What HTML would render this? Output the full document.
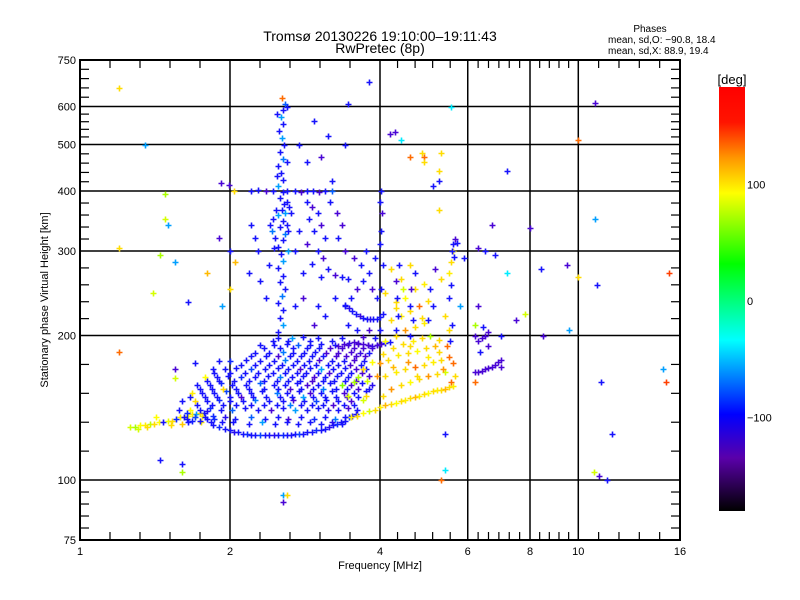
<!DOCTYPE html>
<html><head><meta charset="utf-8">
<style>
html,body{margin:0;padding:0;background:#fff;}
#wrap{position:relative;width:800px;height:600px;overflow:hidden;font-family:"Liberation Sans",sans-serif;}
svg text{font-family:"Liberation Sans",sans-serif;fill:#000;}
</style></head>
<body>
<div id="wrap">
<svg id="chart" width="800" height="600" viewBox="0 0 800 600">
<defs>
<linearGradient id="cbar" x1="0" y1="0" x2="0" y2="1">
<stop offset="0" stop-color="rgb(255,0,0)"/>
<stop offset="0.083" stop-color="rgb(255,20,0)"/>
<stop offset="0.167" stop-color="rgb(255,150,0)"/>
<stop offset="0.25" stop-color="rgb(255,255,0)"/>
<stop offset="0.417" stop-color="rgb(0,255,0)"/>
<stop offset="0.597" stop-color="rgb(0,255,255)"/>
<stop offset="0.772" stop-color="rgb(0,0,255)"/>
<stop offset="0.875" stop-color="rgb(90,0,170)"/>
<stop offset="1" stop-color="rgb(0,0,0)"/>
</linearGradient>
<clipPath id="plotclip"><rect x="80" y="60" width="600" height="480"/></clipPath>
</defs>
<text x="380" y="41" font-size="14" text-anchor="middle">Tromsø 20130226 19:10:00–19:11:43</text>
<text x="380" y="53" font-size="14" text-anchor="middle">RwPretec (8p)</text>
<text x="650" y="32" font-size="10" text-anchor="middle">Phases</text>
<text x="608" y="43" font-size="10">mean, sd,O: −90.8, 18.4</text>
<text x="608" y="54" font-size="10">mean, sd,X:  88.9, 19.4</text>
<g id="grid"></g>
<g id="points" clip-path="url(#plotclip)"></g>
<g id="axes"></g>
<text x="380" y="569" font-size="11" text-anchor="middle">Frequency [MHz]</text>
<text transform="translate(48,300) rotate(-90)" font-size="11" text-anchor="middle">Stationary phase Virtual Height [km]</text>
<rect x="719" y="87" width="26" height="424" fill="url(#cbar)"/>
<text x="732" y="84" font-size="13" text-anchor="middle">[deg]</text>
<g id="cbticks"></g>
</svg>
</div>
<script>
const xMajorTicks = [1, 2, 4, 6, 8, 10, 16];
const xMinorCounts = [5, 5, 5, 6, 5, 5];
const yMajorTicks = [75, 100, 200, 300, 400, 500, 600, 750];
const yMinorCounts = [5, 5, 5, 5, 5, 5, 5];
const xGrid = [2, 4, 6, 8, 10];
const yGrid = [100, 200, 300, 400, 500, 600];
const cbarTicks = [100, 0, -100];

const traceLowE = [[1.26,129,80],[1.29,129,70],[1.32,130,90],[1.35,130,95],[1.38,131,75],[1.41,131,100],[1.44,132,90],[1.47,132,-110],[1.5,133,85],[1.53,133,100],[1.56,134,-100],[1.59,135,95],[1.62,135,100],[1.65,136,90],[1.68,137,95],[1.71,137,-60],[1.74,138,100],[1.77,138,-110],[1.8,139,-120],[1.64,134,-110],[1.7,135,100],[1.76,136,95],[1.52,130,100],[1.6,131,105],[1.68,133,-105],[1.31,128,80],[1.36,129,100],[1.75,132,95],[1.8,134,-110],[1.85,136,-100]];
const traceF1Bottom = [[1.85,130,-110],[1.9,129,-100],[1.95,128,-110],[2.0,127,-110],[2.04,126,-120],[2.08,126,-110],[2.12,125,-110],[2.16,125,-100],[2.2,124,-110],[2.25,124,-110],[2.3,124,-90],[2.35,124,-110],[2.4,124,-110],[2.45,124,-120],[2.5,124,-110],[2.55,124,-100],[2.6,124,-110],[2.65,124,-110],[2.7,125,-110],[2.75,125,-90],[2.8,125,-110],[2.86,126,-110],[2.92,126,-110],[2.98,127,-100],[3.04,127,-110],[3.1,128,-110],[3.16,129,-120],[3.22,130,-110],[3.28,131,-100],[3.34,132,-110],[3.4,133,-110],[3.46,135,-90],[3.52,136,-110],[3.58,137,-110]];
const cloudMain = [
[1.62,135,-110],[1.7,135,-90],[1.78,135,-110],[1.86,134,-100],[1.95,135,-120],[2.05,134,-110],[2.2,135,-80],[2.35,134,-110],[2.5,135,-110],[2.62,134,-140],[2.78,135,-110],[2.95,134,-100],[3.1,135,-110],[3.25,134,-70],[3.4,135,-110],
[1.58,140,-110],[1.66,140,90],[1.74,140,-110],[1.82,141,-100],[1.92,140,-110],[2.02,140,-80],[2.14,141,-110],[2.28,140,-110],[2.42,140,-140],[2.56,141,-110],[2.7,140,-60],[2.85,140,-110],[3.0,141,-110],[3.15,140,-120],[3.3,140,-110],[3.45,141,-140],[3.6,140,-110],
[1.6,146,-110],[1.7,146,100],[1.8,146,-110],[1.9,147,-100],[2.0,146,-110],[2.12,146,-110],[2.25,147,-70],[2.4,146,-110],[2.55,146,-110],[2.68,147,-140],[2.82,146,-110],[2.98,146,-90],[3.12,147,-110],[3.3,146,-110],[3.5,146,-140],[3.7,147,80],
[1.68,152,95],[1.76,152,-110],[1.86,152,-110],[1.96,153,-90],[2.08,152,-110],[2.2,152,-110],[2.32,153,-110],[2.48,152,-70],[2.6,152,-110],[2.75,153,-110],[2.9,152,-140],[3.05,152,-110],[3.2,153,-110],[3.38,152,-140],[3.55,152,-110],[3.75,153,-110],
[1.72,158,-110],[1.82,158,-110],[1.92,159,-100],[2.02,158,-110],[2.15,158,-110],[2.3,159,-80],[2.45,158,-110],[2.58,158,-110],[2.72,159,-110],[2.86,158,-140],[3.0,158,-110],[3.18,159,-110],[3.35,158,60],[3.5,158,-140],[3.68,159,-110],[3.85,158,-120],
[1.78,164,90],[1.88,164,-110],[1.98,165,-110],[2.1,164,-100],[2.24,164,-110],[2.38,165,-110],[2.52,164,-70],[2.66,164,-110],[2.8,165,-110],[2.95,164,-140],[3.1,164,-110],[3.28,165,-110],[3.45,164,-110],[3.62,164,70],[3.8,165,-140],
[1.85,170,-110],[1.95,170,-110],[2.06,171,-110],[2.2,170,-90],[2.35,170,-110],[2.5,171,-110],[2.62,170,-110],[2.76,170,-140],[2.9,171,-110],[3.05,170,-60],[3.22,170,-110],[3.4,171,-110],[3.58,170,-140],[3.75,170,-110],
[1.9,177,-110],[2.0,177,-100],[2.15,178,-110],[2.3,177,-110],[2.45,177,-110],[2.58,178,-70],[2.72,177,-110],[2.88,177,-110],[3.02,178,-140],[3.2,177,-110],[3.38,177,-110],[3.55,178,-140],[3.72,177,-110],
[2.25,184,-110],[2.4,184,-110],[2.55,185,-70],[2.68,184,-110],[2.82,184,-110],[2.96,185,-110],[3.12,184,-140],[3.3,184,-140],[3.5,185,-140],[3.65,184,-130],[3.8,184,-110],
[2.3,191,-110],[2.45,191,-110],[2.6,192,-110],[2.74,191,-80],[2.9,191,-110],[3.05,192,-110],[3.25,191,-110],[3.45,191,-140],[3.62,192,-140],[3.78,191,-140],[3.95,191,-110],
[2.5,198,-110],[2.66,198,-60],[2.8,199,-110],[3.0,198,-110],[3.35,198,-110],[3.7,199,-140],[3.9,198,-110],
[1.65,132,-110],[1.74,133,-110],[1.83,132,-110],[1.93,132,-110],[2.03,132,-110],[2.18,131,-110],[2.32,132,-60],[2.46,131,-110],[2.6,132,-110],[2.74,131,-110],[2.9,132,-110],[3.05,131,-110],[3.2,132,-120],[3.35,131,-110],
[1.64,138,-100],[1.72,143,-110],[1.84,143,-110],[1.94,143,-110],[2.06,143,-110],[2.2,143,-110],[2.34,143,-110],[2.48,143,-110],[2.64,143,-70],[2.78,143,-110],[2.92,143,-110],[3.08,143,-110],[3.22,143,-140],[3.38,143,-110],[3.55,143,-110],
[1.66,149,-110],[1.78,149,-110],[1.88,149,-110],[2.0,149,-110],[2.1,149,-140],[2.22,149,-110],[2.36,149,-110],[2.52,149,-110],[2.66,149,-110],[2.8,149,-60],[2.94,149,-110],[3.1,149,-110],[3.26,149,-110],[3.44,149,-140],[3.62,149,-110],
[1.74,155,-110],[1.84,155,-110],[1.94,155,100],[2.06,155,-110],[2.18,155,-110],[2.34,155,-110],[2.5,155,-110],[2.64,155,-140],[2.78,155,-110],[2.94,155,-110],[3.08,155,-70],[3.26,155,-110],[3.44,155,-110],[3.62,155,-140],[3.8,155,-110],
[1.8,161,-110],[1.9,161,-110],[2.04,161,-110],[2.18,161,-110],[2.34,161,-110],[2.48,161,-110],[2.62,161,-110],[2.76,161,-110],[2.92,161,-140],[3.08,161,-110],[3.24,161,-110],[3.4,161,-110],[3.58,161,-140],[3.76,161,80],
[1.86,167,-110],[2.0,167,-110],[2.14,167,-110],[2.28,167,-110],[2.44,167,-110],[2.58,167,-110],[2.72,167,-110],[2.84,167,-110],[3.0,167,-110],[3.16,167,-140],[3.34,167,-110],[3.5,167,-110],[3.68,167,-140],
[2.1,174,-110],[2.24,174,-110],[2.4,174,-110],[2.54,174,-110],[2.68,174,-110],[2.82,174,-110],[2.98,174,-110],[3.14,174,-110],[3.3,174,-110],[3.48,174,-140],[3.66,174,-110],
[2.2,181,-110],[2.36,181,-110],[2.5,181,-140],[2.64,181,-110],[2.78,181,-110],[2.92,181,-110],[3.08,181,-110],[3.26,181,-140],[3.42,181,-140],[3.58,181,-140],[3.74,181,-140],
[2.34,188,-110],[2.52,188,-110],[2.68,188,-110],[2.86,188,-110],[3.02,188,-110],[3.18,188,-140],[3.36,188,-140],[3.54,188,-140],[3.7,188,-140],[3.86,188,-140],[2.44,195,-110],[2.62,195,-110],[2.9,195,-110],[3.2,195,-110]];
const columnF2 = [[2.5,203,-110],[2.55,210,-60],[2.52,218,-110],[2.56,226,-110],[2.5,234,-110],[2.54,242,-70],[2.58,250,-110],[2.52,258,-110],[2.55,266,-110],[2.5,276,-110],[2.56,286,-60],[2.53,296,-110],[2.5,306,-110],[2.55,316,-110],[2.58,326,-70],[2.52,336,-110],[2.56,346,-110],[2.5,356,-60],[2.54,366,-110],[2.57,376,-110],[2.52,386,-110],[2.55,398,-110],[2.5,410,-60],[2.56,422,-110],[2.53,436,-110],[2.5,450,-110],[2.55,466,-70],[2.52,482,-110],[2.57,498,-110],[2.54,516,-60],[2.51,534,-110],[2.56,552,-110],[2.53,570,-60],[2.55,590,-110],[2.58,608,-80],[2.54,625,130],[2.6,600,-110],[2.48,580,-110],[2.6,460,-110],[2.48,430,-110],[2.6,340,-110],[2.46,320,-110],[2.62,300,-60],[2.44,350,-110],[2.63,370,-110],[2.43,330,-70],[2.41,340,-110],[2.62,330,-110],[2.45,305,-110],[2.58,360,-60],[2.47,365,-110],[2.6,380,-110]];
const cloudF2 = [[2.2,400,-110],[2.28,402,-110],[2.36,400,-140],[2.44,401,-110],[2.6,400,-110],[2.7,401,-110],[2.78,399,-140],[2.86,401,-110],[2.94,400,-110],[3.02,398,-140],[3.1,400,-110],[3.2,401,-80],[2.85,380,-110],[2.92,370,-140],[3.0,360,-110],[2.88,350,-110],[3.05,340,-140],[2.95,330,-110],[3.1,320,-110],[2.86,310,-140],[3.0,300,-110],[3.08,290,-140],[2.92,282,-110],[3.15,275,-110],[3.25,268,-140],[3.35,265,-110],[3.45,262,-110],[3.05,265,-110],[2.8,270,-110],[2.7,300,-110],[2.75,330,-110],[2.65,360,-110],[3.18,380,-110],[3.28,360,-140],[3.35,340,-140],[3.3,320,-110],[3.4,300,-140],[3.2,420,-110],[2.2,340,-110],[2.24,320,-110],[2.28,300,-110],[2.18,270,-110],[2.3,260,-110],[2.4,280,-110],[2.36,240,-110],[2.7,230,-110],[2.8,240,-140],[3.0,230,-110],[3.1,220,-110],[2.95,210,-140],[3.25,240,-110],[3.4,230,-110],[2.85,460,-110],[3.05,470,-140],[2.75,500,-110],[3.15,520,-110],[2.95,560,-110],[3.4,500,-110]];
const uTrace = [[3.4,232,-110],[3.46,228,-120],[3.52,225,-110],[3.58,222,-110],[3.64,220,-130],[3.7,218,-110],[3.76,217,-110],[3.82,216,-120],[3.88,216,-110],[3.94,217,-110],[4.0,219,-110],[4.06,222,-110],[3.5,240,-110],[3.6,250,-140],[3.7,260,-110],[3.8,270,-110],[3.66,280,-110],[3.55,290,-140],[3.9,290,-110],[3.75,300,-110],[4.0,310,-110],[3.85,250,-140],[3.95,240,-110],[3.6,205,-110],[3.8,205,-140],[4.0,205,-110],[4.02,250,-110],[4.05,280,-110],[4.01,330,-110],[4.03,360,-140],[4.0,380,-110],[4.02,400,-110],[3.45,210,-110]];
const bandE = [[3.3,190,-140],[3.38,192,-140],[3.46,193,-130],[3.54,194,-140],[3.62,193,-140],[3.7,192,-140],[3.78,191,-140],[3.86,190,-130],[3.94,191,-140],[4.02,192,-140],[4.1,193,-110],[4.18,194,-110]];
const yellowCloud = [[3.9,140,100],[4.0,142,95],[4.1,143,110],[4.2,144,100],[4.3,145,90],[4.4,146,100],[4.5,147,95],[4.6,148,100],[4.7,149,110],[4.8,150,95],[4.9,151,100],[5.0,152,90],[5.1,153,100],[5.2,154,95],[5.3,154,100],[5.4,155,110],[5.5,156,100],[5.6,157,95],[3.7,138,90],[3.8,139,80],[3.6,136,100],[3.5,135,95],
[4.05,150,100],[4.2,155,120],[4.4,158,100],[4.6,160,90],[4.8,162,100],[5.0,165,120],[5.2,166,100],[5.4,168,80],[4.1,165,100],[4.3,168,95],[4.5,170,100],[4.7,172,130],[4.9,174,100],[5.1,176,95],[5.3,178,100],[5.5,180,130],
[4.0,175,120],[4.15,178,100],[4.35,182,95],[4.55,184,100],[4.75,186,90],[4.95,188,100],[5.15,190,110],[4.25,188,100],[4.45,192,100],[4.65,195,95],[4.85,198,100],[5.05,200,70],[5.25,196,100],[4.1,195,90],[4.3,200,100],[4.5,205,120],[4.7,208,100],[4.9,212,95],
[4.2,215,100],[4.4,220,95],[4.6,225,100],[4.8,230,130],[5.0,236,100],[4.3,235,100],[4.5,240,90],[4.1,245,100],[4.7,250,100],[4.9,256,95],[4.4,262,100],[4.2,275,100],[4.6,280,100],[5.3,262,100],[5.5,270,95],[5.55,285,100],[5.6,300,95],[5.4,220,100],[5.5,205,100],[5.45,190,130],[5.6,175,130],[5.55,160,130],[5.65,165,100],
[3.45,150,80],[3.55,160,70],[3.7,170,100],[3.85,176,90],[3.95,165,120],[3.75,150,100],[4.05,183,100],[4.25,172,110],[4.55,176,120],[4.75,165,100],[5.0,180,95],[5.25,185,100],[5.35,170,120],[4.6,190,100],[4.85,218,100],[4.3,228,100],[4.45,250,80]];
const blueColumns = [[4.3,205,-110],[4.35,220,-110],[4.32,240,-110],[4.3,260,-140],[4.36,280,-110],[4.6,200,-110],[4.65,215,-110],[4.6,230,-110],[4.62,250,-140],[4.7,270,-110],[5.0,215,-110],[5.1,230,-110],[5.05,250,-110],[5.15,275,-140],[5.5,240,-110],[5.55,255,-110],[5.6,310,-110],[5.65,318,-140],[5.58,300,-110],[5.7,312,-110],[5.62,292,-110],[5.52,195,-110],[5.58,210,-110]];
const clusterF6 = [[6.2,168,-140],[6.3,168,-140],[6.4,169,-140],[6.5,170,-140],[6.6,171,-140],[6.7,172,-140],[6.8,174,-140],[6.9,176,-140],[7.0,178,-140],[6.3,195,-140],[6.4,198,-140],[6.5,200,-140],[6.6,203,-140],[6.45,208,-110],[6.35,185,-110],[6.2,200,-140],[6.6,190,-140],[7.0,172,-140],[6.2,160,130],[6.3,230,-140],[6.8,295,-110],[6.5,300,-110],[6.3,305,-140]];
const scattered = [[1.2,655,100],[1.35,500,-60],[1.48,395,70],[1.48,350,80],[1.5,340,-60],[1.9,320,-140],[1.55,285,-60],[1.8,270,110],[1.4,245,80],[1.2,305,100],[1.45,295,70],[1.2,185,130],[1.42,135,90],[1.55,170,-140],[1.55,163,80],[1.7,175,-110],[1.92,415,-140],[1.99,412,-140],[2.04,400,100],[2.0,300,-110],[2.05,285,110],[2.0,250,100],[1.93,230,-60],[1.65,235,-110],[1.45,110,-110],[1.6,108,-110],[1.6,104,70],[2.55,93,-60],[2.6,93,100],[2.55,90,-140],[3.45,607,-110],[3.8,675,-110],[4.4,510,-40],[4.28,530,-140],[4.6,470,130],[4.9,470,130],[4.85,480,100],[4.9,460,100],[5.1,410,-110],[5.25,365,100],[5.25,440,100],[5.3,480,100],[4.18,525,-140],[5.55,600,-40],[5.25,420,-110],[6.7,340,-140],[7.2,440,-110],[8.0,335,-140],[9.5,280,-140],[10.0,510,130],[10.0,265,100],[10.8,610,-140],[10.8,350,-60],[10.9,255,-110],[11.1,160,-110],[11.7,125,-110],[11.4,100,-110],[15.2,270,140],[14.8,170,-60],[15.0,160,140],[10.75,104,80],[11.0,102,-140],[9.6,205,-60],[5.4,105,-40],[5.3,100,130],[7.5,215,-140],[7.8,222,80],[7.2,270,-40],[8.5,200,-140],[8.4,275,-110],[5.9,290,-110],[5.4,125,-110],[6.2,210,70],[5.8,230,-60],[7.0,200,-110]];

const allSeries = [traceLowE, traceF1Bottom, cloudMain, columnF2, cloudF2, uTrace, bandE, yellowCloud, blueColumns, clusterF6, scattered];

const PX0 = 80, PX1 = 680, PY0 = 60, PY1 = 540;
function xScale(f){ return PX0 + (PX1-PX0) * Math.log(f/1) / Math.log(16); }
function yScale(h){ return PY1 - (PY1-PY0) * Math.log10(h/75) / Math.log10(10); }
function cbarLabelY(p){ return 301 - p * 1.165; }
const stops = [[180,[255,0,0]],[150,[255,20,0]],[120,[255,150,0]],[90,[255,255,0]],[30,[0,255,0]],[-35,[0,255,255]],[-70,[0,120,255]],[-108,[20,20,255]],[-150,[90,0,200]],[-180,[0,0,0]]];
function phaseColor(p){
  p = Math.max(-180, Math.min(180, p));
  for (let i=0;i<stops.length-1;i++){
    const a=stops[i], b=stops[i+1];
    if (p<=a[0] && p>=b[0]){
      const t=(a[0]-p)/(a[0]-b[0]);
      const c=a[1].map((v,k)=>Math.round(v+(b[1][k]-v)*t));
      return 'rgb('+c.join(',')+')';
    }
  }
  return 'rgb(0,0,0)';
}
const NS='http://www.w3.org/2000/svg';
function mk(tag, attrs){ const e=document.createElementNS(NS,tag); for(const k in attrs) e.setAttribute(k,attrs[k]); return e; }

const grid=document.getElementById('grid');
xGrid.forEach(v=>{
  const l=mk('line',{x1:xScale(v),x2:xScale(v),y1:PY0,y2:PY1,stroke:'#000','stroke-width':1.5});
  
  
  grid.appendChild(l);
});
yGrid.forEach(v=>{
  const l=mk('line',{x1:PX0,x2:PX1,y1:yScale(v),y2:yScale(v),stroke:'#000','stroke-width':1.5});
  
  
  grid.appendChild(l);
});

const pts=document.getElementById('points');
allSeries.forEach(series=>{
  series.forEach(d=>{
    const x=Math.round(xScale(d[0]))+0.5, y=Math.round(yScale(d[1]))+0.5;
    const p=mk('path',{d:'M'+(x-3)+' '+y+'h6M'+x+' '+(y-3)+'v6',stroke:phaseColor(d[2]),'stroke-width':1.6,fill:'none'});
    
    
    pts.appendChild(p);
  });
});

const axes=document.getElementById('axes');
const frame=mk('rect',{x:PX0,y:PY0,width:PX1-PX0,height:PY1-PY0,fill:'none',stroke:'#000','stroke-width':2});


axes.appendChild(frame);
for(let i=0;i<xMajorTicks.length-1;i++){
  const a=xScale(xMajorTicks[i]), b=xScale(xMajorTicks[i+1]), n=xMinorCounts[i];
  for(let k=1;k<n;k++){
    const x=a+(b-a)*k/n;
    const t1=mk('line',{x1:x,x2:x,y1:PY1,y2:PY1-8,stroke:'#000','stroke-width':1.2});
    
    
    axes.appendChild(t1);
    const t2=mk('line',{x1:x,x2:x,y1:PY0,y2:PY0+8,stroke:'#000','stroke-width':1.2});
    
    
    axes.appendChild(t2);
  }
}
for(let i=0;i<yMajorTicks.length-1;i++){
  const a=yScale(yMajorTicks[i]), b=yScale(yMajorTicks[i+1]), n=yMinorCounts[i];
  for(let k=1;k<n;k++){
    const y=a+(b-a)*k/n;
    const t1=mk('line',{x1:PX0,x2:PX0+9,y1:y,y2:y,stroke:'#000','stroke-width':1.2});
    
    
    axes.appendChild(t1);
    const t2=mk('line',{x1:PX1,x2:PX1-9,y1:y,y2:y,stroke:'#000','stroke-width':1.2});
    
    
    axes.appendChild(t2);
  }
}
xMajorTicks.forEach(v=>{
  const t=mk('text',{x:xScale(v),y:555,'font-size':11,'text-anchor':'middle'});
  t.textContent=String(v);
  
  
  axes.appendChild(t);
});
yMajorTicks.forEach(v=>{
  const t=mk('text',{x:76,y:yScale(v)+4,'font-size':11,'text-anchor':'end'});
  t.textContent=String(v);
  
  
  axes.appendChild(t);
});
const cb=document.getElementById('cbticks');
cbarTicks.forEach(v=>{
  const t=mk('text',{x:747,y:cbarLabelY(v)+4,'font-size':11});
  t.textContent=v<0?'−'+Math.abs(v):String(v);
  
  
  cb.appendChild(t);
});
</script>
</body></html>
